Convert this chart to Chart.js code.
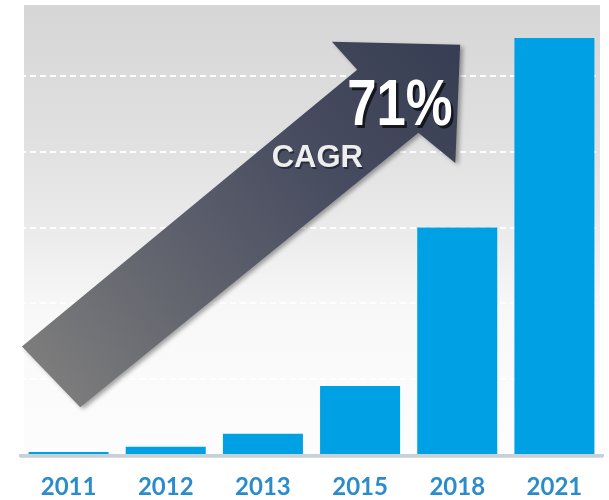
<!DOCTYPE html>
<html>
<head>
<meta charset="utf-8">
<script src="https://cdn.jsdelivr.net/npm/chart.js@4/dist/chart.umd.min.js"></script>
<style>
  html, body { margin: 0; padding: 0; background: #ffffff; }
  canvas { display: block; }
</style>
</head>
<body>
<canvas id="chart" width="609" height="500"></canvas>
<script>
// years on the axis and the bar heights
const years = ['2011', '2012', '2013', '2015', '2018', '2021'];
const values = [0.04, 0.11, 0.28, 0.91, 3.0, 5.5];

// growth arrow, in (category index, value) space
const arrowPath = [
  [-0.48, 1.43], [0.12, 0.63], [3.60, 4.25], [3.98, 3.85],
  [4.03, 5.41], [2.71, 5.45], [2.97, 5.08]
];
const rateLabel = '71%';
const rateAt = [3.41, 4.59];
const cagrLabel = 'CAGR';
const cagrAt = [2.56, 3.91];

// grey gradient panel behind the bars
const panel = {
  id: 'panel',
  beforeDraw(chart) {
    const { ctx, chartArea: a } = chart;
    const g = ctx.createLinearGradient(0, a.top + 5, 0, a.bottom);
    g.addColorStop(0, '#d6d6d6');
    g.addColorStop(0.3, '#e0e0e0');
    g.addColorStop(0.52, '#ececec');
    g.addColorStop(0.68, '#f8f8f8');
    g.addColorStop(1, '#fdfdfd');
    ctx.save();
    ctx.fillStyle = g;
    ctx.fillRect(a.left + 4, a.top + 5, a.right - a.left - 7, a.bottom - a.top - 5);
    // soft shadow under the base line
    ctx.fillStyle = 'rgba(150,150,150,0.35)';
    ctx.fillRect(a.left, a.bottom + 1, a.right - a.left, 2);
    ctx.restore();
  }
};

// arrow and CAGR text on top of everything
const arrow = {
  id: 'arrow',
  afterDatasetsDraw(chart) {
    const { ctx, scales: { x, y } } = chart;
    const px = p => [x.getPixelForValue(p[0]), y.getPixelForValue(p[1])];
    const pts = arrowPath.map(px);
    const tip = pts[4];
    const tail = [(pts[0][0] + pts[1][0]) / 2, (pts[0][1] + pts[1][1]) / 2];

    ctx.save();
    const g = ctx.createLinearGradient(tip[0], tip[1], tail[0], tail[1]);
    g.addColorStop(0, '#373d52');
    g.addColorStop(0.35, '#474c60');
    g.addColorStop(0.7, '#62646e');
    g.addColorStop(1, '#7c7c7c');
    ctx.shadowColor = 'rgba(0,0,0,0.35)';
    ctx.shadowBlur = 4;
    ctx.shadowOffsetX = 3;
    ctx.shadowOffsetY = 2;
    ctx.beginPath();
    pts.forEach((p, i) => i ? ctx.lineTo(p[0], p[1]) : ctx.moveTo(p[0], p[1]));
    ctx.closePath();
    ctx.fillStyle = g;
    ctx.fill();
    ctx.restore();

    // 71%
    const r = px(rateAt);
    ctx.save();
    ctx.translate(r[0], r[1]);
    ctx.scale(0.81, 1);
    ctx.font = 'bold 65px "Liberation Sans", Arial, sans-serif';
    ctx.textAlign = 'center';
    ctx.textBaseline = 'middle';
    ctx.fillStyle = '#15171f';
    ctx.fillText(rateLabel, 3, 3);
    ctx.fillStyle = '#ffffff';
    ctx.fillText(rateLabel, 0, 0);
    ctx.restore();

    // CAGR
    const c = px(cagrAt);
    ctx.save();
    ctx.font = 'bold 31px "Liberation Sans", Arial, sans-serif';
    ctx.textAlign = 'center';
    ctx.textBaseline = 'middle';
    ctx.fillStyle = 'rgba(20,22,30,0.6)';
    ctx.fillText(cagrLabel, c[0] + 1.5, c[1] + 1.5);
    ctx.fillStyle = '#eeeeee';
    ctx.fillText(cagrLabel, c[0], c[1]);
    ctx.restore();
  }
};

new Chart(document.getElementById('chart'), {
  type: 'bar',
  data: {
    labels: years,
    datasets: [{
      data: values,
      backgroundColor: '#00a0e4',
      borderWidth: 0,
      barPercentage: 0.9,
      categoryPercentage: 0.915
    }]
  },
  options: {
    responsive: false,
    animation: false,
    layout: { padding: { left: 20, right: 6, top: 0, bottom: 1 } },
    plugins: { legend: { display: false }, tooltip: { enabled: false } },
    scales: {
      x: {
        grid: { display: false, drawTicks: false },
        border: { display: true, color: '#c6d2da', width: 3 },
        ticks: {
          color: '#2b8ccb',
          padding: 18,
          font: { family: 'Lato', weight: 'bold', size: 24 }
        },
        afterFit(scale) { scale.height = 44; }
      },
      y: {
        min: 0,
        max: 6,
        ticks: { display: false, stepSize: 1 },
        border: { display: false, dash: [6, 4] },
        grid: { color: 'rgba(255,255,255,0.95)', lineWidth: 2, drawTicks: false }
      }
    }
  },
  plugins: [panel, arrow]
});
</script>
</body>
</html>
